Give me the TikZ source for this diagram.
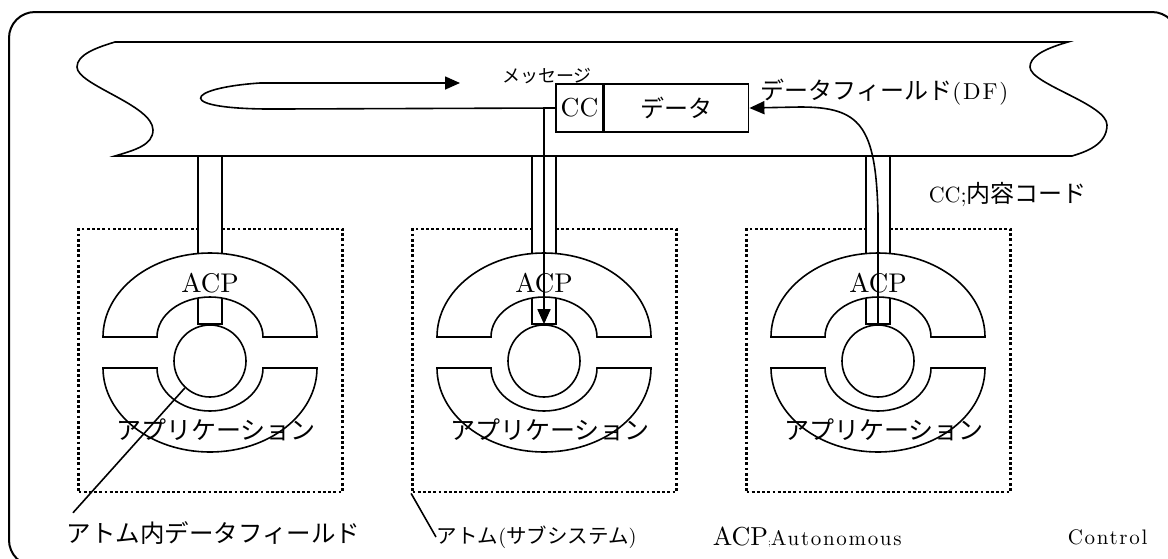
\documentclass[tikz,border=0pt]{standalone}
\usepackage{fontspec}
\usepackage{tikz}
\usetikzlibrary{arrows.meta}
\usetikzlibrary{positioning}
\usetikzlibrary{calc}
\setmainfont{lmroman10-regular.otf}
\newfontfamily\jpfont{Noto Sans CJK JP}
\newfontfamily\spaced[LetterSpace=8]{lmroman10-regular.otf}
\newcommand{\pxsize}[1]{\fontsize{#1}{#1}\selectfont}
\tikzset{
	atom/.style={draw, line width=2.8pt, dash pattern=on 2.8pt off 2.4pt,
		minimum width=264pt, minimum height=263pt, inner sep=0pt},
	field/.style={draw, circle, minimum size=72pt, inner sep=0pt},
	cell/.style={draw, minimum height=48pt, inner sep=0pt},
	lbl/.style={inner sep=0pt, anchor=west},
	flow/.style={->, line width=1.6pt},
}

\begin{document}
\begin{tikzpicture}[x=1pt, y=-1pt, line width=1.6pt,
	>={Triangle[length=15pt,width=13pt]}]
	\useasboundingbox (0,0) rectangle (1168,558);
	\draw[line width=2pt, rounded corners=26pt] (9,12) rectangle (1178,566);
	% the data field band with its wavy ends
	\draw (115,42) -- (1068,42)
		.. controls (1040,50) and (1030,58) .. (1030,67)
		.. controls (1030,84) and (1107,104) .. (1107,125)
		.. controls (1107,145) and (1085,152) .. (1072,156)
		-- (115,156)
		.. controls (135,150) and (153,145) .. (153,130)
		.. controls (153,105) and (77,85) .. (77,67)
		.. controls (77,55) and (95,48) .. (115,42) -- cycle;
	% atoms
	\foreach \cx/\n in {210/1,544/2,878/3} {
		\node[atom] (atom\n) at (\cx+0.5,360.5) {};
		\fill[white] (\cx-12,157) rectangle (\cx+12,252);
		\draw (\cx-12,156) -- (\cx-12,253) (\cx+12,156) -- (\cx+12,253);
		% ACP half and application half
		\draw (\cx-107,337) arc[start angle=180, end angle=0, x radius=107pt, y radius=84pt]
			-- (\cx+53,337) arc[start angle=0, end angle=180, x radius=53pt, y radius=40pt] -- cycle;
		\draw (\cx-107,368) arc[start angle=180, end angle=360, x radius=107pt, y radius=84pt]
			-- (\cx+53,368) arc[start angle=360, end angle=180, x radius=53pt, y radius=43pt] -- cycle;
		\draw (\cx-12,298) |- (\cx+12,324) -- (\cx+12,298);
		\node[field] (df\n) at (\cx,361) {};
		\node[font=\pxsize{27}] (acp\n) at (\cx,283) {ACP};
		\node[font=\jpfont\pxsize{25}] (app\n) at (\cx+6,430) {アプリケーション};
	}
	% message in the field
	\node[cell, minimum width=47pt, font=\pxsize{26}] (cc) at (579.5,108) {CC};
	\node[cell, minimum width=144pt, right=0pt of cc, font=\jpfont\pxsize{24}] (data) {データ};
	\node[font=\jpfont\pxsize{18}] (msg) at (547,76) {メッセージ};
	\node[lbl, font=\pxsize{24}] (dfname) at (760,92) {{\jpfont データフィールド}{\spaced\pxsize{23}(DF)}};
	\node[lbl, font=\pxsize{22}] (ccnote) at (928,195) {CC;{\jpfont\pxsize{24}内容コード}};
	\coordinate (loopend) at (460,83);
	\draw[flow] (cc.west) -- (280,109) .. controls (170,110) and (185,88) .. (260,83) -- (loopend);
	\draw[flow] (cc.west -| df2.north) -- (df2.north);
	\draw[flow] (df3.north) -- (878,215) .. controls (876,125) and (860,107) .. (800,107) -- (data.east);
	% notes along the bottom
	\node[lbl, font=\jpfont\pxsize{24.5}] (lbl1) at (66,533) {アトム内データフィールド};
	\node[lbl, font=\pxsize{20.5}] (lbl2) at (436,537) {{\jpfont アトム}({\jpfont サブシステム})};
	\node[lbl] (acpnote) at (712,537) {{\pxsize{26}ACP};{\spaced\pxsize{21}Autonomous}};
	\node[lbl, font=\spaced\pxsize{21}] (ctrl) at (1067,537) {Control};
	\draw (df1.227) -- ($(lbl1.north west)+(7,-8)$);
	\draw (atom2.south west) -- (lbl2.west);
\end{tikzpicture}
\end{document}
